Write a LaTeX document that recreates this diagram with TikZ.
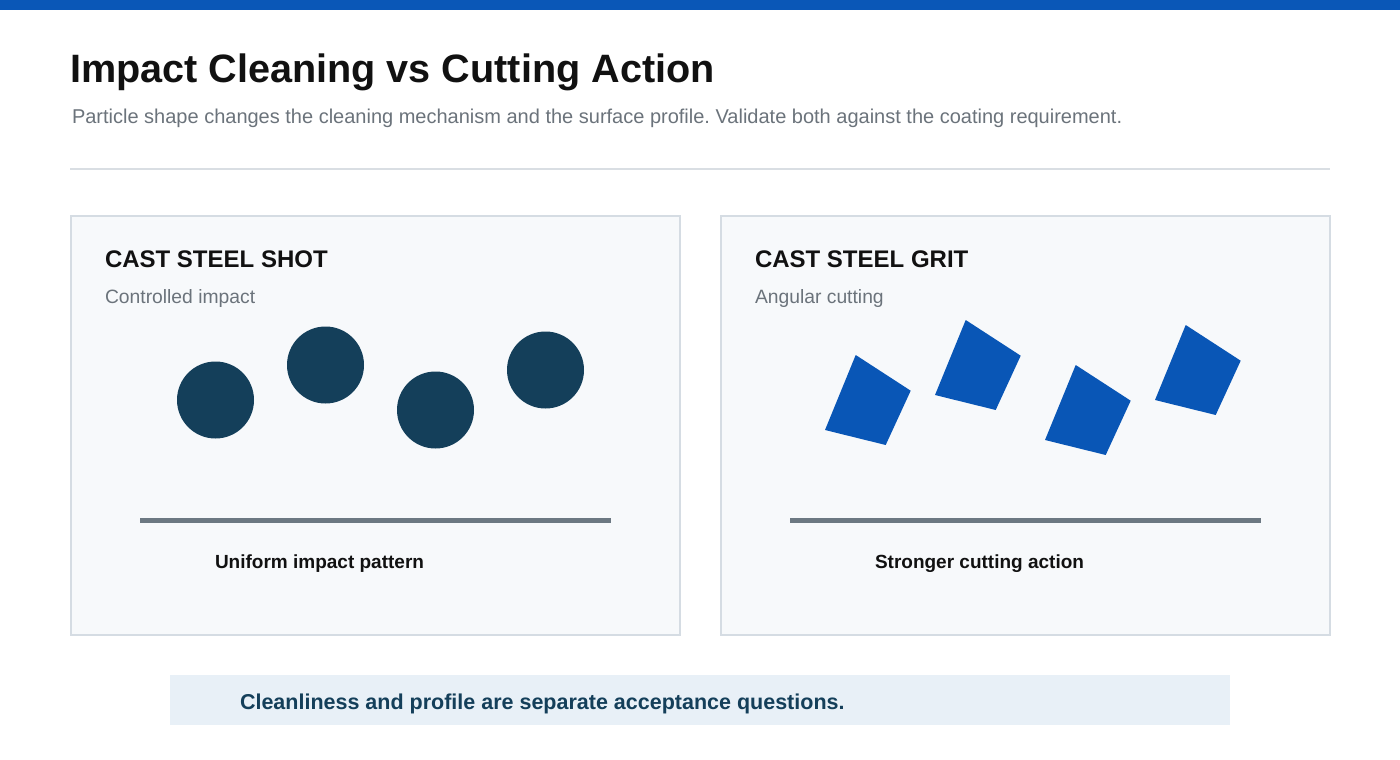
\documentclass[tikz,border=0pt]{standalone}
\usepackage{fontspec}
\setmainfont{Liberation Sans}
\frenchspacing
\definecolor{topbar}{HTML}{0A57B7}
\definecolor{titlec}{HTML}{111111}
\definecolor{subc}{HTML}{6B737B}
\definecolor{rulec}{HTML}{D9DEE3}
\definecolor{panelfill}{HTML}{F7F9FB}
\definecolor{panelborder}{HTML}{D5DCE3}
\definecolor{shotc}{HTML}{143F5A}
\definecolor{gritc}{HTML}{0956B6}
\definecolor{surfc}{HTML}{6C7882}
\definecolor{bandc}{HTML}{E8F0F7}
\definecolor{bandtext}{HTML}{143F5A}
\tikzset{
  txt/.style={anchor=base west, inner sep=0pt, outer sep=0pt},
  panel/.style={draw=panelborder, fill=panelfill, line width=1.5pt, minimum width=609pt, minimum height=419pt, inner sep=0pt},
  shot/.style={circle, fill=shotc, minimum size=77pt, inner sep=0pt},
  grit/.style={fill=gritc},
  surface/.style={draw=surfc, line width=4.5pt},
  heading/.style={txt, text=titlec, font=\fontsize{24}{28}\selectfont\bfseries},
  caption/.style={txt, text=subc, font=\fontsize{19.3}{23}\selectfont},
  result/.style={txt, text=titlec, font=\fontsize{19}{23}\selectfont\bfseries},
}
\begin{document}
\begin{tikzpicture}[x=1pt,y=-1pt]
\useasboundingbox (0,0) rectangle (1400,760);
\fill[white] (0,0) rectangle (1400,760);
% top bar
\fill[topbar] (0,0) rectangle (1400,10);
% title
\node[txt, text=titlec, font=\fontsize{39.6}{46}\selectfont\bfseries] (title) at (70,82) {Impact Cleaning vs Cutting Action};
\node[txt, text=subc, font=\fontsize{20}{24}\selectfont] (subtitle) at (72,123) {Particle shape changes the cleaning mechanism and the surface profile. Validate both against the coating requirement.};
\coordinate (ruleL) at (70,169);
\coordinate (ruleR) at (1330,169);
\draw[rulec, line width=1.5pt] (ruleL) -- (ruleR);
% panels
\node[panel] (leftpanel) at (375.5,425.5) {};
\node[panel] (rightpanel) at (1025.5,425.5) {};
% left panel
\node[heading] (lhead) at (105,267.5) {CAST STEEL SHOT};
\node[caption] (lcap) at (105,303) {Controlled impact};
\node[shot] (s1) at (215.5,400) {};
\node[shot] (s2) at (325.5,365) {};
\node[shot] (s3) at (435.5,410) {};
\node[shot] (s4) at (545.5,370) {};
\coordinate (lsurfL) at (140,520.5);
\coordinate (lsurfR) at (611,520.5);
\draw[surface] (lsurfL) -- (lsurfR);
\node[result] (lres) at (215,568) {Uniform impact pattern};
% right panel
\node[heading] (rhead) at (755,267.5) {CAST STEEL GRIT};
\node[caption] (rcap) at (755,303) {Angular cutting};
\foreach \dx/\dy in {0/0, 110/-35, 220/10, 330/-30}{
  \fill[grit, shift={(\dx,\dy)}] (855.7,355) -- (910.7,390.7) -- (885.7,445) -- (825,430) -- cycle;
}
\coordinate (rsurfL) at (790,520.5);
\coordinate (rsurfR) at (1261,520.5);
\draw[surface] (rsurfL) -- (rsurfR);
\node[result] (rres) at (875,568) {Stronger cutting action};
% bottom band
\node[fill=bandc, minimum width=1060pt, minimum height=50pt, inner sep=0pt] (band) at (700,700) {};
\node[txt, text=bandtext, font=\fontsize{21.5}{26}\selectfont\bfseries] (bandtxt) at (240,709.5) {Cleanliness and profile are separate acceptance questions.};
\end{tikzpicture}
\end{document}
